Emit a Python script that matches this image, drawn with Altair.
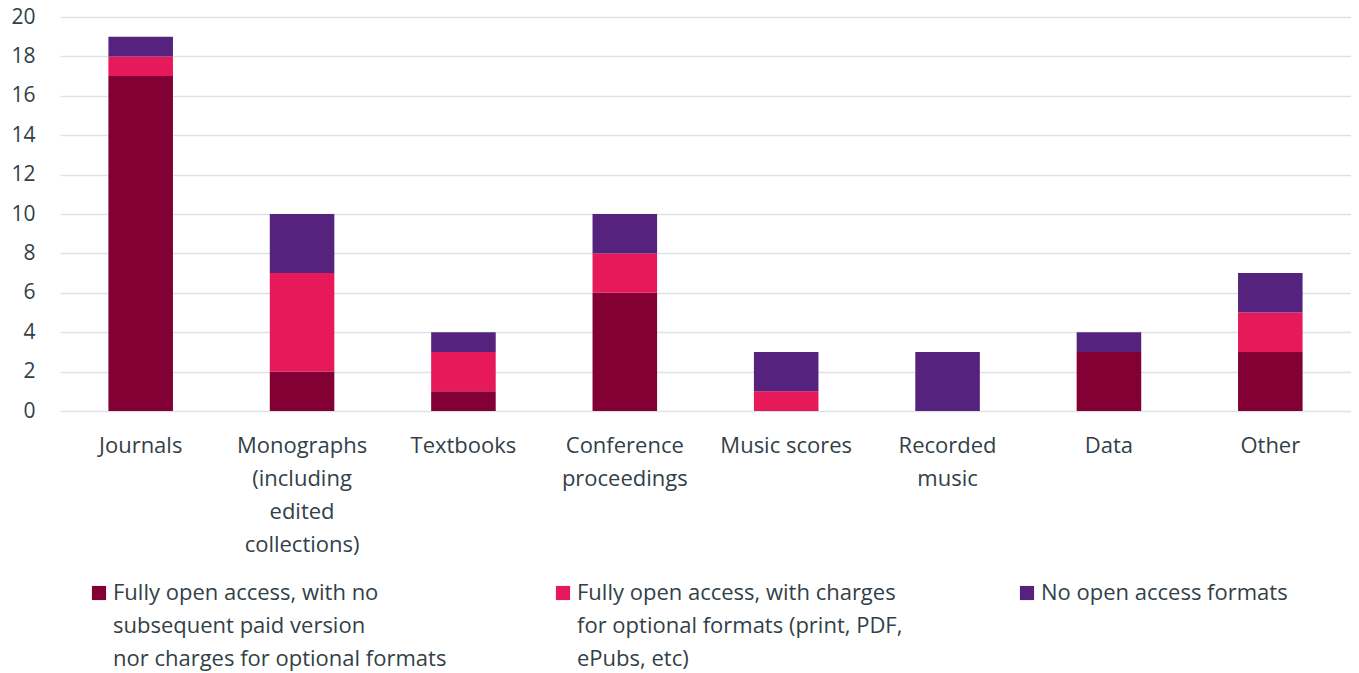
import altair as alt
import pandas as pd

categories = [
    "Journals",
    "Monographs|(including|edited|collections)",
    "Textbooks",
    "Conference|proceedings",
    "Music scores",
    "Recorded|music",
    "Data",
    "Other",
]
series = [
    "Fully open access, with no|subsequent paid version|nor charges for optional formats",
    "Fully open access, with charges|for optional formats (print, PDF,|ePubs, etc)",
    "No open access formats||",
]
colors = ["#820033", "#E6195A", "#55237D"]

fully_oa_no_charges = [17, 2, 1, 6, 0, 0, 3, 3]
fully_oa_with_charges = [1, 5, 2, 2, 1, 0, 0, 2]
no_oa = [1, 3, 1, 2, 2, 3, 1, 2]

rows = []
for s_idx, vals in enumerate([fully_oa_no_charges, fully_oa_with_charges, no_oa]):
    for c, v in zip(categories, vals):
        rows.append({"category": c, "series": series[s_idx], "order": s_idx, "value": v})
df = pd.DataFrame(rows)

TEXT = "#333F48"
FONT = "Open Sans"
DY = -10

chart = (
    alt.Chart(df)
    .mark_bar()
    .encode(
        x=alt.X(
            "category:N",
            sort=categories,
            title=None,
            scale=alt.Scale(paddingInner=0.6, paddingOuter=0.3),
            axis=alt.Axis(
                labelAngle=0,
                labelExpr="split(datum.label, '|')",
                labelLineHeight=33,
                labelBaseline="top",
                labelPadding=24 - DY,
                labelLimit=400,
                ticks=False,
                domain=False,
                labelFontSize=22,
            ),
        ),
        y=alt.Y(
            "value:Q",
            stack="zero",
            title=None,
            scale=alt.Scale(domain=[0, 20]),
            axis=alt.Axis(
                values=list(range(0, 21, 2)),
                ticks=False,
                domain=False,
                labelPadding=25,
                labelOffset=-DY,
                labelLineHeight=21,
                labelFontSize=21,
                gridColor="#DDE2E8",
                gridWidth=1.5,
            ),
        ),
        color=alt.Color(
            "series:N",
            sort=series,
            scale=alt.Scale(domain=series, range=colors),
            legend=alt.Legend(
                title=None,
                orient="none",
                legendX=28,
                legendY=565,
                direction="horizontal",
                columns=3,
                gridAlign="all",
                columnPadding=105,
                padding=0,
                labelOffset=3,
                labelExpr="split(datum.label, '|')",
                labelFontSize=22,
                labelLimit=500,
                symbolType="square",
                symbolSize=200,
                symbolStrokeWidth=0,
                labelBaseline="top",
            ),
        ),
        order=alt.Order("order:Q", sort="ascending"),
    )
    .properties(
        width=1291,
        height=394,
        autosize=alt.AutoSizeParams(type="none"),
        padding={"left": 52, "top": 9, "right": 0, "bottom": 262},
    )
    .configure(style={"guide-label": {"lineHeight": 33, "dy": DY}})
    .configure_view(stroke=None)
    .configure_axis(labelColor=TEXT, labelFont=FONT)
    .configure_legend(labelColor=TEXT, labelFont=FONT)
)

chart.save("out.html", embed_options={"renderer": "svg", "actions": False})
